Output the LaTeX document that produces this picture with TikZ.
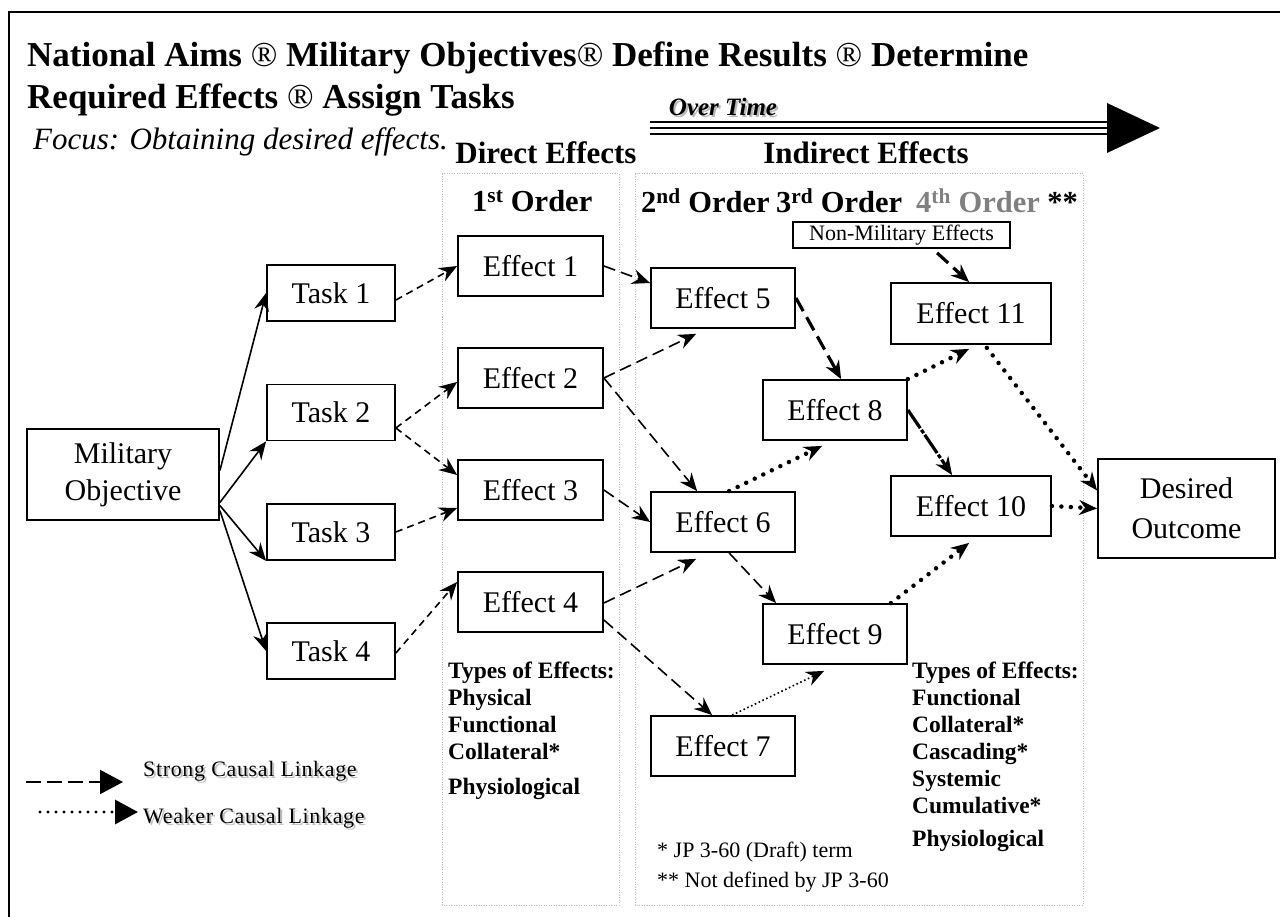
\documentclass[tikz,border=0pt]{standalone}
\usepackage{fontspec}
\setmainfont{Liberation Serif}
\usetikzlibrary{arrows.meta}
\definecolor{ordgray}{RGB}{128,128,128}
\begin{document}
\begin{tikzpicture}[x=1pt,y=-1pt,
  box/.style={draw, line width=1.8pt, inner sep=0pt, align=center, font=\fontsize{30}{37}\selectfont},
  tip/.style={-{Stealth[length=18pt,width=15pt,inset=6pt]}},
  solidln/.style={tip, line width=1.6pt},
  sdash/.style={tip, line width=1.6pt, dash pattern=on 7pt off 5pt},
  ldash/.style={tip, line width=1.6pt, dash pattern=on 12pt off 6pt},
  bdash/.style={tip, line width=3.2pt, dash pattern=on 15pt off 7pt},
  bdot/.style={tip, line width=4.5pt, line cap=round, dash pattern=on 0pt off 9.5pt},
  tdot/.style={tip, line width=1.6pt, dash pattern=on 1.6pt off 2.6pt},
  mixln/.style={tip, line width=3.2pt, dash pattern=on 22pt off 2pt on 4pt off 2pt},
  grp/.style={draw=gray!55, line width=1pt, dash pattern=on 1pt off 1.5pt},
  title/.style={anchor=west, inner sep=0pt, font=\fontsize{35}{40}\selectfont\bfseries},
  head/.style={inner sep=0pt, font=\fontsize{31}{37}\selectfont\bfseries},
  ord/.style={anchor=west, inner sep=0pt, font=\fontsize{30.5}{36}\selectfont\bfseries},
  types/.style={anchor=north west, inner sep=0pt, align=left, font=\fontsize{23.5}{27}\selectfont\bfseries},
  foot/.style={anchor=west, inner sep=0pt, font=\fontsize{22}{26}\selectfont},
  legtxt/.style={anchor=west, inner sep=0pt, font=\fontsize{22}{26}\selectfont\addfontfeature{LetterSpace=3}},
  legtip/.style={-{Triangle[length=23pt,width=24pt]}}
]
\useasboundingbox (0,0) rectangle (1280,917);
% frame
\draw[line width=2pt] (1281,12) -- (9,12) -- (9,918);

% titles
\node[title] (t1line) at (27,58) {National Aims \textmd{®} Military Objectives\textmd{®} Define Results \textmd{®} Determine};
\node[title] (t2line) at (27,100) {Required Effects \textmd{®} Assign Tasks};
\node[anchor=west, inner sep=0pt, font=\fontsize{31}{37}\selectfont\itshape] (focus) at (33,142) {Focus: Obtaining desired effects.};

% over time arrow
\node[inner sep=0pt, font=\fontsize{25}{30}\selectfont\bfseries\itshape, text=gray!55] (otsh) at (725,109) {Over Time};
\node[inner sep=0pt, font=\fontsize{25}{30}\selectfont\bfseries\itshape] (ot) at (723,107) {Over Time};
\coordinate (oa) at (650,128);
\coordinate (ob) at (1110,128);
\draw[line width=1.3pt] ([yshift=6pt]oa) -- ([yshift=6pt]ob);
\draw[line width=2pt] (oa) -- (ob);
\draw[line width=1.3pt] ([yshift=-6pt]oa) -- ([yshift=-6pt]ob);
\fill (1107,103) -- (1160,128) -- (1107,153) -- cycle;

% group boxes
\draw[grp] (442,174) rectangle (619,905);
\draw[grp] (635,174) rectangle (1083,905);
\node[head] (de) at (546,153) {Direct Effects};
\node[head] (ie) at (866,153) {Indirect Effects};

% order labels
\node[ord] (o1) at (472,201) {1\textsuperscript{st} Order};
\node[ord] (o2) at (641,201) {2\textsuperscript{nd} Order};
\node[ord] (o3) at (776,201) {3\textsuperscript{rd} Order};
\node[ord] (o4) at (916,201) {\textcolor{ordgray}{4\textsuperscript{th} Order} **};

% nodes
\node[box, minimum width=192pt, minimum height=91pt] (mo) at (123,474.5) {Military\\Objective};
\node[box, minimum width=128pt, minimum height=56pt] (t1) at (331,293) {Task 1};
\node[box, minimum width=128pt, minimum height=56pt] (t2) at (331,412.5) {Task 2};
\node[box, minimum width=128pt, minimum height=56pt] (t3) at (331,532) {Task 3};
\node[box, minimum width=128pt, minimum height=56pt] (t4) at (331,651) {Task 4};
\node[box, minimum width=145pt, minimum height=60pt] (e1) at (530.5,266) {Effect 1};
\node[box, minimum width=145pt, minimum height=60pt] (e2) at (530.5,378) {Effect 2};
\node[box, minimum width=145pt, minimum height=60pt] (e3) at (530.5,490) {Effect 3};
\node[box, minimum width=145pt, minimum height=60pt] (e4) at (530.5,602) {Effect 4};
\node[box, minimum width=144pt, minimum height=60pt] (e5) at (723,298) {Effect 5};
\node[box, minimum width=144pt, minimum height=60pt] (e6) at (723,522) {Effect 6};
\node[box, minimum width=144pt, minimum height=60pt] (e7) at (723,746) {Effect 7};
\node[box, minimum width=144pt, minimum height=60pt] (e8) at (835,410) {Effect 8};
\node[box, minimum width=144pt, minimum height=60pt] (e9) at (835,634) {Effect 9};
\node[box, minimum width=160pt, minimum height=61pt] (e11) at (971,313.5) {Effect 11};
\node[box, minimum width=160pt, minimum height=60pt] (e10) at (971,506) {Effect 10};
\node[box, minimum width=177pt, minimum height=99pt, font=\fontsize{30}{40}\selectfont] (des) at (1186.5,508.5) {Desired\\Outcome};
\node[box, minimum width=217pt, minimum height=26pt, font=\fontsize{22}{24}\selectfont] (nm) at (901.5,235) {Non-Military Effects};

% connectors
\draw[solidln] ([yshift=4pt]mo.east) -- (t1.west);
\draw[solidln] ([yshift=-28pt]mo.east) -- (t2.south west);
\draw[solidln] ([yshift=-31pt]mo.east) -- (t3.south west);
\draw[solidln] ([yshift=-36pt]mo.east) -- (t4.west);

\draw[sdash] ([yshift=-7pt]t1.east) -- (e1.west);
\draw[sdash] ([yshift=-15.5pt]t2.east) -- ([yshift=-4pt]e2.west);
\draw[sdash] ([yshift=-15.5pt]t2.east) -- ([yshift=15pt]e3.west);
\draw[sdash] (t3.east) -- ([yshift=-18pt]e3.west);
\draw[sdash] ([yshift=-2pt]t4.east) -- ([yshift=20pt]e4.west);

\draw[ldash] (e1.east) -- ([yshift=15pt]e5.west);
\draw[ldash] (e2.east) -- ([xshift=46pt,yshift=-5pt]e5.south west);
\draw[ldash] (e2.east) -- ([xshift=47pt]e6.north west);
\draw[ldash] (e3.east) -- (e6.west);
\draw[ldash] ([yshift=-1pt]e4.east) -- ([xshift=46pt,yshift=-6pt]e6.south west);
\draw[ldash] ([yshift=-18pt]e4.east) -- ([xshift=62pt]e7.north west);
\draw[ldash] ([xshift=79pt]e6.south west) -- ([xshift=14pt]e9.north west);

\draw[bdash] (e5.east) -- ([xshift=79pt]e8.north west);
\draw[bdash] ([xshift=145pt,yshift=-4pt]nm.south west) -- ([xshift=79pt]e11.north west);
\draw[mixln] (e8.east) -- ([xshift=62pt]e10.north west);

\draw[bdot] ([xshift=79pt]e6.north west) -- ([xshift=60pt,yshift=-5pt]e8.south west);
\draw[tdot] ([xshift=82pt]e7.north west) -- ([xshift=62pt,yshift=-6pt]e9.south west);
\draw[bdot] (e8.north east) -- ([xshift=79pt,yshift=-4pt]e11.south west);
\draw[bdot] ([xshift=-17pt]e9.north east) -- ([xshift=79pt,yshift=-6pt]e10.south west);
\draw[bdot] ([xshift=-65pt,yshift=-3pt]e11.south east) -- ([yshift=18pt]des.west);
\draw[bdot] (e10.east) -- (des.west);

% types of effects
\node[types] (ty1) at (448,662) {Types of Effects:\\Physical\\Functional\\Collateral*\\[8pt]Physiological};
\node[types] (ty2) at (912,662) {Types of Effects:\\Functional\\Collateral*\\Cascading*\\Systemic\\Cumulative*\\[6pt]Physiological};

% footnotes
\node[foot] (f1) at (657,852) {* JP 3-60 (Draft) term};
\node[foot] (f2) at (657,882) {** Not defined by JP 3-60};

% legend
\coordinate (ls1) at (26,782);
\coordinate (ls2) at (123,782);
\coordinate (lw1) at (40,812);
\coordinate (lw2) at (138,812);
\draw[legtip, line width=2pt, dash pattern=on 15pt off 6pt] (ls1) -- (ls2);
\draw[legtip, line width=3.2pt, line cap=round, dash pattern=on 0pt off 8pt] (lw1) -- (lw2);
\node[legtxt, text=gray!50] (lsa) at (145,773) {Strong Causal Linkage};
\node[legtxt] (lsb) at (143,771) {Strong Causal Linkage};
\node[legtxt, text=gray!50] (lwa) at (145,820) {Weaker Causal Linkage};
\node[legtxt] (lwb) at (143,818) {Weaker Causal Linkage};
\end{tikzpicture}
\end{document}
